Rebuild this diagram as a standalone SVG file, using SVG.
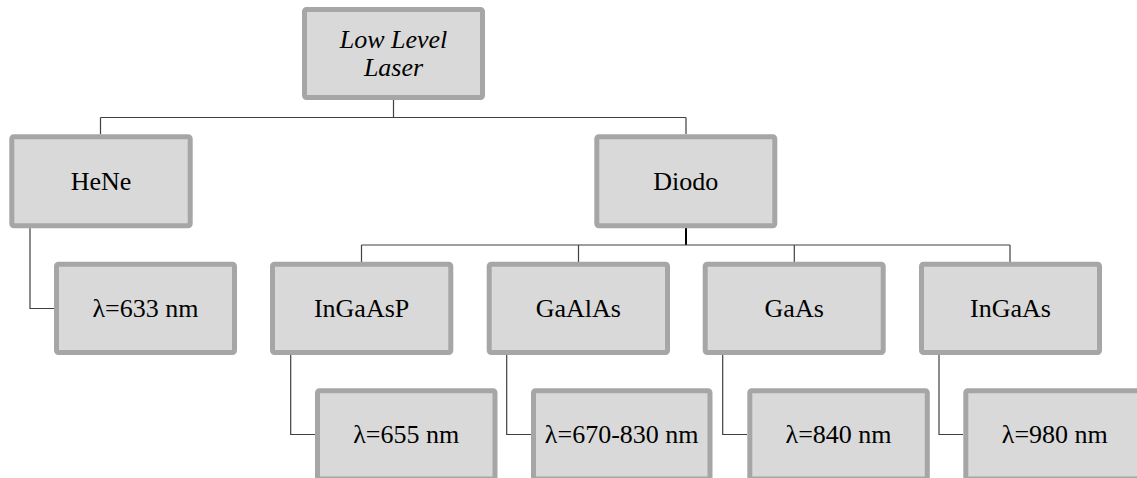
<svg xmlns="http://www.w3.org/2000/svg" width="1137" height="478" viewBox="0 0 1137 478">
<style>
.box{fill:#d9d9d9;stroke:#a6a6a6;stroke-width:5}
.t{font-family:"Liberation Serif","Times New Roman",serif;font-size:26px;fill:#000;text-anchor:middle}
.i{font-style:italic}
.c{fill:none;stroke:#404040;stroke-width:1.2}
</style>
<rect width="1137" height="478" fill="#fff"/>
<g id="connectors">
<path class="c" d="M393.5,100 V117.5 M100.5,117.5 H686 M100.5,117.5 V134 M686,117.5 V134"/>
<path d="M686,228 V245" stroke="#000" stroke-width="2" fill="none"/>
<path class="c" d="M361.5,245 H1010 M361.5,245 V262 M578.5,245 V262 M794.3,245 V262 M1010,245 V262"/>
<path class="c" d="M30,228 V308.5 H54"/>
<path class="c" d="M290.7,355 V434.5 H315"/>
<path class="c" d="M506.7,355 V434.5 H531"/>
<path class="c" d="M722.7,355 V434.5 H747"/>
<path class="c" d="M939,355 V434.5 H963"/>
</g>
<g id="n-top"><rect class="box" x="304.5" y="9.5" width="178" height="88" rx="2"/><text class="t i" x="393.5" y="48">Low Level</text><text class="t i" x="393.5" y="76">Laser</text></g>
<g id="n-hene"><rect class="box" x="11.8" y="136.8" width="178.4" height="89" rx="2"/><text class="t" x="101" y="190">HeNe</text></g>
<g id="n-diodo"><rect class="box" x="596.8" y="136.8" width="178" height="89" rx="2"/><text class="t" x="685.8" y="190">Diodo</text></g>
<g id="n-633"><rect class="box" x="56.5" y="264.2" width="178" height="88.3" rx="2"/><text class="t" x="145.5" y="316.5">λ=633 nm</text></g>
<g id="n-ingaasp"><rect class="box" x="272.5" y="264.2" width="178.3" height="88.3" rx="2"/><text class="t" x="361.6" y="316.5">InGaAsP</text></g>
<g id="n-gaalas"><rect class="box" x="489.2" y="264.2" width="178.3" height="88.3" rx="2"/><text class="t" x="578.3" y="316.5">GaAlAs</text></g>
<g id="n-gaas"><rect class="box" x="705.2" y="264.2" width="178" height="88.3" rx="2"/><text class="t" x="794.2" y="316.5">GaAs</text></g>
<g id="n-ingaas"><rect class="box" x="921.5" y="264.2" width="178" height="88.3" rx="2"/><text class="t" x="1010.5" y="316.5">InGaAs</text></g>
<g id="n-655"><rect class="box" x="317.5" y="390.8" width="177.5" height="88.3" rx="2"/><text class="t" x="406.2" y="443">λ=655 nm</text></g>
<g id="n-670"><rect class="box" x="533.5" y="390.8" width="176.5" height="88.3" rx="2"/><text class="t" x="621.7" y="443">λ=670-830 nm</text></g>
<g id="n-840"><rect class="box" x="749.8" y="390.8" width="177.5" height="88.3" rx="2"/><text class="t" x="838.6" y="443">λ=840 nm</text></g>
<g id="n-980"><rect class="box" x="965.8" y="390.8" width="178" height="88.3" rx="2"/><text class="t" x="1054.8" y="443">λ=980 nm</text></g>
</svg>
